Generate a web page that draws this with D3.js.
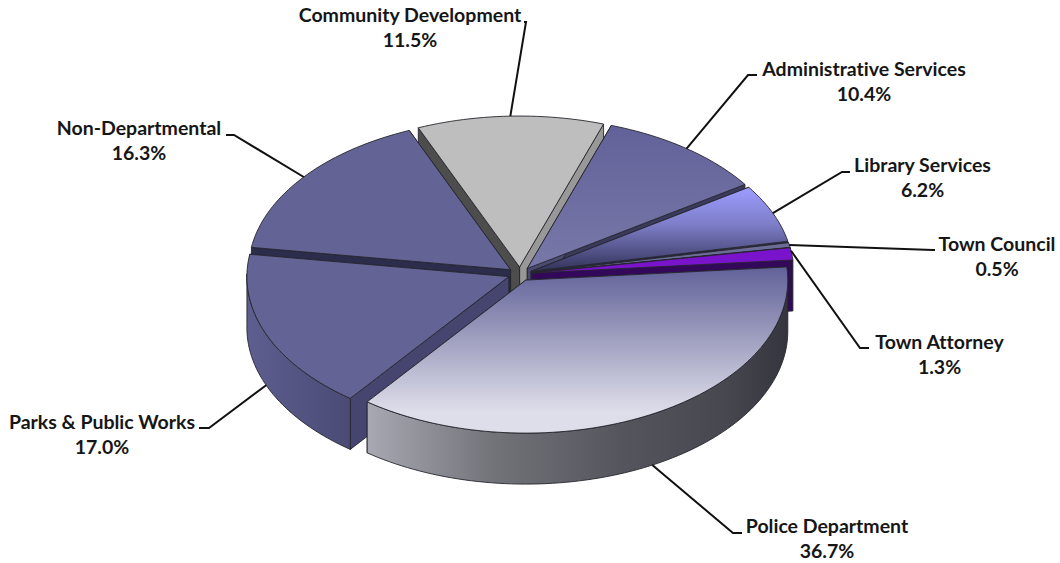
<!DOCTYPE html>
<html>
<head>
<meta charset="utf-8">
<script src="https://cdn.jsdelivr.net/npm/d3@7"></script>
<style>
  html, body { margin: 0; padding: 0; background: #fff; }
  svg { display: block; }
  text { font-family: Lato, "Open Sans", sans-serif; font-weight: 700; fill: #161616; font-variant-ligatures: none; }
</style>
</head>
<body>
<svg id="chart" width="1060" height="563"></svg>
<script>
// Budget share by department, clockwise from the upper right of the pie
const departments = ["Administrative Services", "Library Services", "Town Council", "Town Attorney",
  "Police Department", "Parks & Public Works", "Non-Departmental", "Community Development"];
const shares = [10.4, 6.2, 0.5, 1.3, 36.7, 17.0, 16.3, 11.5];

// Paint order, back of the pie to front
const paintOrder = [7, 6, 0, 1, 2, 3, 5, 4];

const cx = 520, cy = 274;
const radius = 262, ryBack = 151, ryFront = 153, depth = 51, explode = 12;
const deg = Math.PI / 180;
const firstAngle = 18.7;

const svg = d3.select("#chart");
const defs = svg.append("defs");

function linear(id, x1, y1, x2, y2, stops) {
  const g = defs.append("linearGradient").attr("id", id)
    .attr("gradientUnits", "userSpaceOnUse")
    .attr("x1", x1).attr("y1", y1).attr("x2", x2).attr("y2", y2);
  stops.forEach(([o, c]) => g.append("stop").attr("offset", o).attr("stop-color", c));
  return `url(#${id})`;
}

// "start" colours the cut face at a slice's first angle, "end" the one at its last angle
const skins = [
  { top: linear("t0", 0, 125, 0, 270, [[0, "#62629a"], [1, "#7878a8"]]), end: "#3a3a5c", start: "#4a4a70", rim: "#5a5a88" },
  { top: linear("t1", 0, 188, 0, 270, [[0, "#9c9cff"], [0.45, "#7d7dc8"], [1, "#34345a"]]), end: "#34345a", start: "#2a2a48", rim: "#5a5a90" },
  { top: "#6c6c98", end: "#1e1e32", start: "#1e1e32", rim: "#44446a" },
  { top: "#7a14cc", end: "#33085a", start: "#33085a", rim: "#520d8a" },
  { top: linear("t4", 0, 268, 0, 412, [[0, "#62629a"], [0.5, "#a0a0c0"], [1, "#dedeea"]]), end: "#55557a", start: "#2a2a3c",
    rim: linear("r4", 368, 0, 790, 0, [[0, "#a8a8b2"], [0.3, "#727279"], [0.6, "#55555d"], [0.85, "#47474f"], [1, "#34343e"]]) },
  { top: "#636396", end: "#3a3a5c", start: "#454570", rim: linear("r5", 246, 0, 350, 0, [[0, "#5e5e90"], [1, "#4b4b76"]]) },
  { top: "#636396", end: "#2c2c4c", start: "#2c2c4c", rim: "#4a4a70" },
  { top: "#bebebe", end: "#989898", start: "#4d4d4d", rim: "#8c8c8c" }
];

const pie = d3.pie().sort(null).value(d => d)
  .startAngle(firstAngle * deg).endAngle((firstAngle + 360) * deg);
const arcs = pie(shares);

// Tilted-disc projection: angle runs clockwise from twelve o'clock
const ry = a => (Math.cos(a) > 0 ? ryBack : ryFront);
const rimScale = d3.scaleLinear().domain([0, 1]).range([0, radius]);
function project(a, t, o) {
  const r = rimScale(t);
  return [o[0] + r * Math.sin(a), o[1] - (r / radius) * ry(a) * Math.cos(a)];
}
function apex(d) {
  const m = (d.startAngle + d.endAngle) / 2;
  return [cx + explode * Math.sin(m), cy - explode * 0.58 * Math.cos(m)];
}
function rimPoints(d, o) {
  const steps = Math.max(4, Math.ceil((d.endAngle - d.startAngle) / (1.5 * deg)));
  return d3.range(steps + 1).map(i => project(d.startAngle + (d.endAngle - d.startAngle) * i / steps, 1, o));
}
const line = d3.line();
const drop = p => [p[0], p[1] + depth];

const slices = svg.append("g").attr("stroke", "#26262e").attr("stroke-width", 0.9).attr("stroke-linejoin", "round");

paintOrder.forEach(i => {
  const d = arcs[i], s = skins[i], o = apex(d), g = slices.append("g");
  const rim = rimPoints(d, o);
  const a = rim[0], b = rim[rim.length - 1];

  // Cut faces running back to the centre
  g.append("path").attr("fill", s.end).attr("d", line([o, b, drop(b), drop(o)]) + "Z");
  g.append("path").attr("fill", s.start).attr("d", line([o, a, drop(a), drop(o)]) + "Z");

  // Outer wall, only where the rim faces the viewer
  const front = rim.filter((p, k) => {
    const ang = d.startAngle + (d.endAngle - d.startAngle) * k / (rim.length - 1);
    return Math.cos(ang) <= 0.02;
  });
  if (front.length > 1) {
    g.append("path").attr("fill", s.rim)
      .attr("d", line(front.concat(front.slice().reverse().map(drop))) + "Z");
  }

  // Top face
  g.append("path").attr("fill", s.top).attr("d", line([o].concat(rim)) + "Z");
});

// Callouts: leader elbow, short tail towards the label, label centre, position along the slice
const callouts = [
  { elbow: [748, 75], tail: [757, 75], text: [864, 70.5], at: 0.5 },
  { elbow: [842, 172], tail: [850, 172], text: [922.5, 167], at: 0.5 },
  { elbow: [933, 250], tail: [935, 250], text: [997, 245.5], at: 0.5 },
  { elbow: [860, 348], tail: [869, 348], text: [939.5, 344], at: 0.25 },
  { elbow: [733, 533], tail: [742, 533], text: [827, 528], at: 0.5 },
  { elbow: [209, 428], tail: [199, 428], text: [102, 424], at: 0.5 },
  { elbow: [234, 135], tail: [226, 135], text: [139, 130], at: 0.5 },
  { elbow: [526, 22], tail: [524, 22], text: [410, 17], at: 0.5 }
];

const labels = svg.append("g");
callouts.forEach((c, i) => {
  const d = arcs[i], o = apex(d);
  const ang = d.startAngle + (d.endAngle - d.startAngle) * c.at;
  let start = project(ang, 1, o);
  if (Math.cos(ang) < 0) start = drop(start);
  labels.append("path").attr("fill", "none").attr("stroke", "#111").attr("stroke-width", 2)
    .attr("d", line([start, c.elbow, c.tail]));
  labels.append("text").attr("x", c.text[0]).attr("y", c.text[1])
    .attr("text-anchor", "middle").attr("font-size", 19.5).attr("dominant-baseline", "middle")
    .text(departments[i]);
  labels.append("text").attr("x", c.text[0]).attr("y", c.text[1] + 25)
    .attr("text-anchor", "middle").attr("font-size", 19.5).attr("dominant-baseline", "middle")
    .text(shares[i].toFixed(1) + "%");
});
</script>
</body>
</html>
